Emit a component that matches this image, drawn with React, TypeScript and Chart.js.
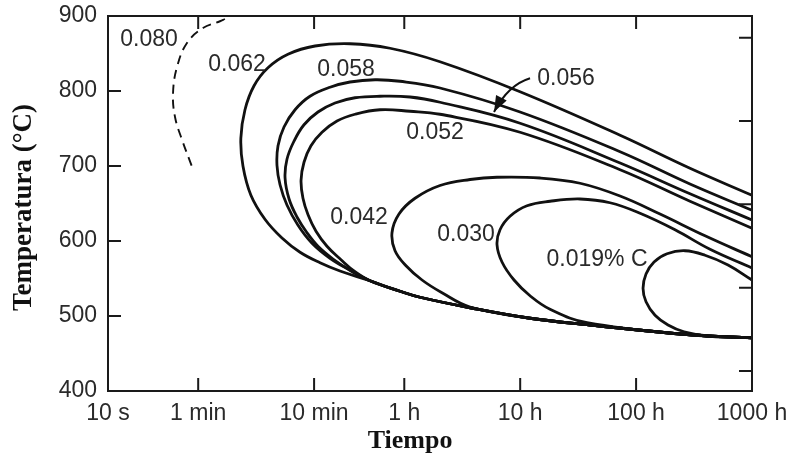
import React, { useEffect, useRef } from "react";
import { Chart, registerables } from "chart.js";

Chart.register(...registerables);

// ---------- axes ----------
const X_TICK_VALUES = [10, 60, 600, 3600, 36000, 360000, 3600000]; // seconds
const X_TICK_LABELS = ["10 s", "1 min", "10 min", "1 h", "10 h", "100 h", "1000 h"];
const Y_MIN = 400;
const Y_MAX = 900;
const Y_TICKS = [400, 500, 600, 700, 800, 900];
const F_TICKS = [800, 1000, 1200, 1400, 1600]; // right-hand ticks (°F)
const X_TITLE = "Tiempo";
const Y_TITLE = "Temperatura (°C)";

// ---------- curves (time in s, temperature in °C) ----------
const C080_TIME = [102, 92.5, 66, 48, 39.4, 36.4, 37.9, 43.5, 53.1];
const C080_TEMP = [896, 893, 884, 864, 832, 797, 765, 735, 699];

const C062_TIME = [3600000, 1050000, 262000, 35900, 7320, 2710, 1225, 611, 357, 240, 182, 152, 140, 146, 171, 226, 317, 454, 675, 1004, 1822, 3310, 4920, 13300, 43800, 144000, 1050000, 3600000];
const C062_TEMP = [661, 697, 741, 799, 839, 857, 863, 860, 849, 831, 807, 775, 737, 700, 661, 629, 604, 585, 571, 560, 547, 533, 525, 511, 497, 488, 475, 471];

const C058_TIME = [3600000, 1050000, 262000, 35900, 7320, 3307, 2012, 1225, 823, 553, 411, 330, 293, 287, 305, 350, 436, 576, 823, 1225, 1822, 3310, 4920, 13300, 43800, 144000, 1050000, 3600000];
const C058_TEMP = [641, 676, 719, 772, 804, 813, 815, 812, 805, 793, 775, 752, 727, 701, 675, 648, 621, 597, 577, 561, 547, 533, 525, 511, 497, 488, 475, 471];

const C056_TIME = [3600000, 1050000, 262000, 35900, 7320, 4034, 2223, 1352, 909, 648, 491, 402, 350, 337, 365, 427, 521, 648, 874, 1225, 1822, 3310, 4920, 13300, 43800, 144000, 1050000, 3600000];
const C056_TEMP = [628, 663, 704, 757, 785, 792, 793, 791, 784, 772, 755, 733, 709, 684, 656, 632, 611, 593, 576, 561, 547, 533, 525, 511, 497, 488, 475, 471];

const C052_TIME = [3600000, 1050000, 262000, 35900, 7318, 4034, 2223, 1352, 946, 702, 564, 491, 463, 481, 532, 623, 775, 1024, 1352, 1822, 3310, 4920, 13300, 43800, 144000, 1050000, 3600000];
const C052_TEMP = [617, 653, 695, 745, 769, 773, 775, 769, 760, 745, 727, 705, 681, 657, 635, 613, 593, 575, 559, 547, 533, 525, 511, 497, 488, 475, 471];

const C042_TIME = [3600000, 1416000, 579000, 261600, 118200, 53400, 22700, 13300, 7318, 4457, 3241, 2820, 2995, 3726, 5120, 7616, 13300, 43800, 144000, 1050000, 3600000];
const C042_TEMP = [579, 607, 636, 660, 677, 684, 685, 682, 674, 657, 636, 611, 587, 567, 548, 531, 512, 497, 488, 475, 471];

const C030_TIME = [3600000, 1564000, 780100, 389300, 214500, 118200, 65140, 41220, 29410, 24110, 22720, 25080, 31850, 43770, 65140, 135800, 1050000, 3600000];
const C030_TEMP = [564, 589, 615, 637, 651, 656, 653, 647, 633, 615, 595, 572, 548, 527, 509, 491, 475, 471];

const C019_TIME = [3600000, 2236000, 1416000, 951400, 665600, 514000, 438500, 413200, 438500, 524300, 679000, 932800, 1564000, 3600000];
const C019_TEMP = [548, 568, 581, 587, 583, 572, 556, 537, 519, 501, 488, 479, 473, 471];

// ---------- curve labels ----------
const LABEL_TEXT = ["0.080", "0.062", "0.058", "0.056", "0.052", "0.042", "0.030", "0.019% C"];
const LABEL_TIME = [22.6, 130, 1131, 89450, 6628, 1465, 12270, 165700];
const LABEL_TEMP = [868, 835, 829, 817, 745, 631, 609, 575];

// arrow from the "0.056" label to its curve (tail, bend, tip)
const ARROW_TIME = [43800, 28270, 21400];
const ARROW_TEMP = [817, 808, 772];

const zip = (t: number[], c: number[]) => t.map((x, i) => ({ x, y: c[i] }));

const SANS = "'Liberation Sans', Arial, Helvetica, sans-serif";
const SERIF = "'Liberation Serif', 'Times New Roman', serif";
const TEXT_COLOR = "#2a2a2a";
const LINE_COLOR = "#111111";

const decorPlugin = {
  id: "decor",
  afterDatasetsDraw(chart: any) {
    const { ctx, chartArea: a, scales } = chart;
    const sx = scales.x;
    const sy = scales.y;
    const sf = scales.yF;
    ctx.save();
    // frame
    ctx.strokeStyle = "#1a1a1a";
    ctx.lineWidth = 2;
    ctx.strokeRect(a.left, a.top, a.right - a.left, a.bottom - a.top);
    // inward ticks
    const TL = 13;
    ctx.beginPath();
    X_TICK_VALUES.forEach((v) => {
      const px = sx.getPixelForValue(v);
      if (px > a.left + 2 && px < a.right - 2) {
        ctx.moveTo(px, a.bottom);
        ctx.lineTo(px, a.bottom - TL);
        ctx.moveTo(px, a.top);
        ctx.lineTo(px, a.top + TL);
      }
    });
    Y_TICKS.forEach((v) => {
      const py = sy.getPixelForValue(v);
      if (py > a.top + 2 && py < a.bottom - 2) {
        ctx.moveTo(a.left, py);
        ctx.lineTo(a.left + TL, py);
      }
    });
    F_TICKS.forEach((v) => {
      const py = sf.getPixelForValue(v);
      if (py > a.top + 2 && py < a.bottom - 2) {
        ctx.moveTo(a.right, py);
        ctx.lineTo(a.right - TL, py);
      }
    });
    ctx.stroke();

    // curve labels
    ctx.fillStyle = TEXT_COLOR;
    ctx.font = `23px ${SANS}`;
    ctx.textAlign = "center";
    ctx.textBaseline = "middle";
    LABEL_TEXT.forEach((t, i) => {
      ctx.fillText(t, sx.getPixelForValue(LABEL_TIME[i]), sy.getPixelForValue(LABEL_TEMP[i]));
    });

    // arrow
    const p = ARROW_TIME.map((t, i) => ({ x: sx.getPixelForValue(t), y: sy.getPixelForValue(ARROW_TEMP[i]) }));
    ctx.strokeStyle = LINE_COLOR;
    ctx.lineWidth = 2;
    ctx.beginPath();
    ctx.moveTo(p[0].x, p[0].y);
    ctx.quadraticCurveTo(p[1].x, p[1].y, p[2].x, p[2].y);
    ctx.stroke();
    const ang = Math.atan2(p[2].y - p[1].y, p[2].x - p[1].x);
    const hl = 16;
    const hw = 6;
    const bx = p[2].x - hl * Math.cos(ang);
    const by = p[2].y - hl * Math.sin(ang);
    ctx.fillStyle = LINE_COLOR;
    ctx.beginPath();
    ctx.moveTo(p[2].x, p[2].y);
    ctx.lineTo(bx + hw * Math.sin(ang), by - hw * Math.cos(ang));
    ctx.lineTo(bx - hw * Math.sin(ang), by + hw * Math.cos(ang));
    ctx.closePath();
    ctx.fill();

    // axis titles
    ctx.fillStyle = "#111";
    ctx.textAlign = "center";
    ctx.textBaseline = "middle";
    ctx.font = `bold 26px ${SERIF}`;
    ctx.fillText(X_TITLE, a.left + (a.right - a.left) * 0.469, 441);
    ctx.save();
    ctx.translate(24, (a.top + a.bottom) / 2 + 4);
    ctx.rotate(-Math.PI / 2);
    ctx.font = `bold 27px ${SERIF}`;
    ctx.fillText(Y_TITLE, 0, 0);
    ctx.restore();
    ctx.restore();
  },
};

const curve = (label: string, t: number[], c: number[], dashed = false) => ({
  label,
  data: zip(t, c),
  showLine: true,
  pointRadius: 0,
  borderColor: LINE_COLOR,
  borderWidth: dashed ? 1.9 : 2.8,
  borderDash: dashed ? [9, 6] : [],
  tension: 0.4,
  fill: false,
  xAxisID: "x",
  yAxisID: "y",
});

export default function App() {
  const ref = useRef<HTMLCanvasElement>(null);
  useEffect(() => {
    document.body.style.margin = "0";
    const chart = new Chart(ref.current as HTMLCanvasElement, {
      type: "scatter",
      data: {
        datasets: [
          curve("0.080", C080_TIME, C080_TEMP, true),
          curve("0.062", C062_TIME, C062_TEMP),
          curve("0.058", C058_TIME, C058_TEMP),
          curve("0.056", C056_TIME, C056_TEMP),
          curve("0.052", C052_TIME, C052_TEMP),
          curve("0.042", C042_TIME, C042_TEMP),
          curve("0.030", C030_TIME, C030_TEMP),
          curve("0.019", C019_TIME, C019_TEMP),
        ] as any,
      },
      options: {
        animation: false,
        responsive: true,
        maintainAspectRatio: false,
        layout: { padding: { top: 16, left: 0, right: 0, bottom: 0 } },
        plugins: { legend: { display: false }, tooltip: { enabled: false } },
        scales: {
          x: {
            type: "logarithmic",
            min: 10,
            max: 3600000,
            afterBuildTicks: (s: any) => {
              s.ticks = X_TICK_VALUES.map((v) => ({ value: v }));
            },
            afterFit: (s: any) => {
              s.height = 68;
              s.paddingLeft = 0;
              s.paddingRight = 0;
            },
            grid: { display: false, drawTicks: false },
            border: { display: false },
            ticks: {
              autoSkip: false,
              maxRotation: 0,
              padding: 9,
              color: TEXT_COLOR,
              font: { family: SANS, size: 23 },
              callback: (_v: any, i: number) => X_TICK_LABELS[i],
            },
          },
          y: {
            type: "linear",
            position: "left",
            min: Y_MIN,
            max: Y_MAX,
            afterBuildTicks: (s: any) => {
              s.ticks = Y_TICKS.map((v) => ({ value: v }));
            },
            afterFit: (s: any) => {
              s.width = 108;
              s.paddingTop = 0;
              s.paddingBottom = 0;
            },
            grid: { display: false, drawTicks: false },
            border: { display: false },
            ticks: {
              padding: 11,
              color: TEXT_COLOR,
              font: { family: SANS, size: 23 },
            },
          },
          yF: {
            type: "linear",
            position: "right",
            min: (Y_MIN * 9) / 5 + 32,
            max: (Y_MAX * 9) / 5 + 32,
            afterBuildTicks: (s: any) => {
              s.ticks = F_TICKS.map((v) => ({ value: v }));
            },
            afterFit: (s: any) => {
              s.width = 38;
              s.paddingTop = 0;
              s.paddingBottom = 0;
            },
            grid: { display: false, drawTicks: false },
            border: { display: false },
            ticks: { display: false },
          },
        },
      } as any,
      plugins: [decorPlugin],
    });
    return () => chart.destroy();
  }, []);
  return (
    <div style={{ position: "relative", width: 790, height: 459 }}>
      <canvas ref={ref} />
    </div>
  );
}
